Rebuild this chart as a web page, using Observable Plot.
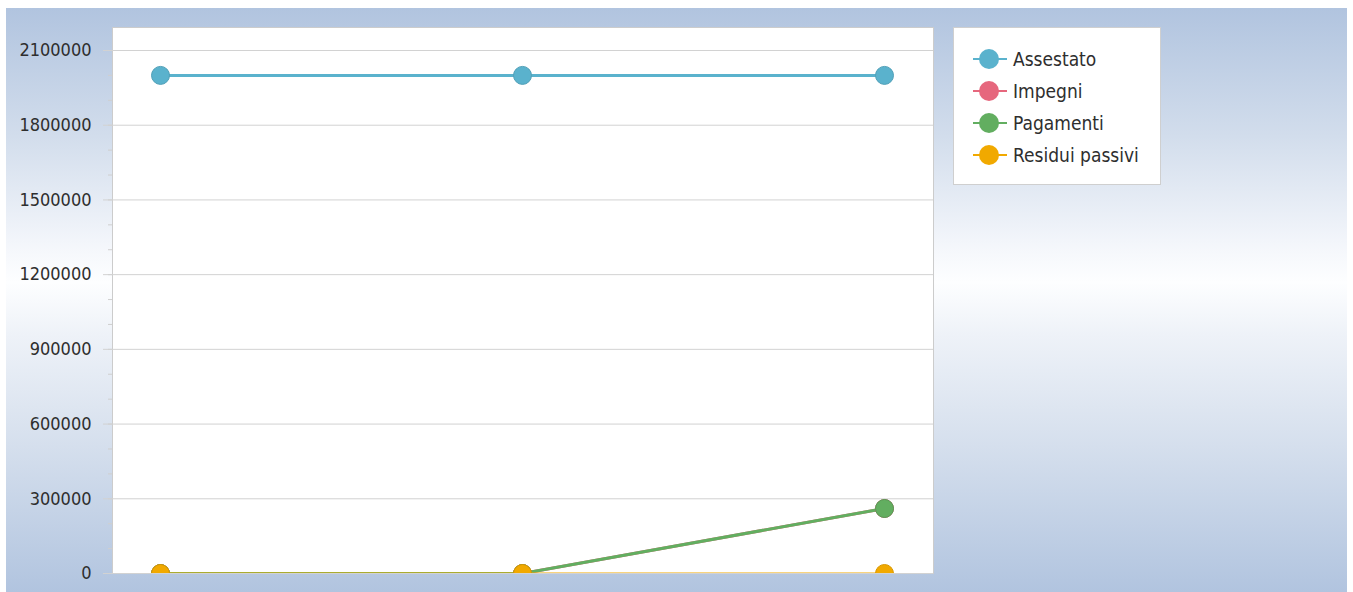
<!DOCTYPE html>
<html>
<head>
<meta charset="utf-8">
<script src="https://cdn.jsdelivr.net/npm/d3@7"></script>
<script src="https://cdn.jsdelivr.net/npm/@observablehq/plot@0.6"></script>
<style>
  html, body { margin: 0; padding: 0; background: #ffffff; }
  #wrap { position: relative; width: 1353px; height: 592px; overflow: hidden; background: #ffffff; }
  #panel { position: absolute; left: 6px; top: 8px; width: 1341px; height: 584px;
           background: linear-gradient(to bottom, #b1c4df 0%, #d2ddec 22%, #f6f8fc 42%, #fdfeff 47%, #eef2f8 56%, #d5dfed 75%, #b1c4df 100%); }
  #chart { position: absolute; left: 0; top: 0; }
  #legend { position: absolute; left: 953px; top: 27px; width: 206px; height: 156px;
            background: #ffffff; border: 1px solid #cfcfcf;
            font-family: "DejaVu Sans Condensed", "DejaVu Sans", sans-serif; font-stretch: condensed;
            font-size: 19px; color: #2e2e2e; }
  .item { position: absolute; left: 18px; height: 24px; display: flex; align-items: center; }
  .item svg { margin-right: 5px; }
</style>
</head>
<body>
<div id="wrap">
  <div id="panel"></div>
  <div id="chart"></div>
  <div id="legend"></div>
</div>
<script>
// ---- data ----
const categories = ["Periodo 1", "Periodo 2", "Periodo 3"];
const seriesNames = ["Assestato", "Impegni", "Pagamenti", "Residui passivi"];
const seriesColors = ["#5ab2cd", "#e6677d", "#62ae60", "#f1a900"];
const assestato = [2000000, 2000000, 2000000];
const impegni = [0, 0, 261000];
const pagamenti = [0, 0, 261000];
const residui = [0, 0, 0];
const majorTicks = [0, 300000, 600000, 900000, 1200000, 1500000, 1800000, 2100000];
const minorTicks = d3.range(0, 2100001, 100000);

const seriesValues = [assestato, impegni, pagamenti, residui];
const rows = [];
seriesNames.forEach((s, i) => {
  categories.forEach((c, j) => rows.push({serie: s, cat: c, value: seriesValues[i][j]}));
});

const yMax = 2100000 * (573 - 27) / (573 - 50);

const chart = Plot.plot({
  width: 1353,
  height: 592,
  marginLeft: 112,
  marginRight: 420,
  marginTop: 27,
  marginBottom: 19,
  style: {background: "transparent", fontFamily: "'DejaVu Sans Condensed', 'DejaVu Sans', sans-serif", fontSize: "18px", fontStretch: "condensed", color: "#2e2e2e"},
  x: {type: "point", domain: categories, padding: 0, range: [160, 884], axis: null},
  y: {domain: [0, yMax], axis: null},
  marks: [
    Plot.frame({fill: "#ffffff", stroke: "#cccccc"}),
    Plot.gridY(majorTicks, {stroke: "#d2d2d2", strokeOpacity: 1}),
    Plot.axisY(minorTicks, {tickSize: 4, text: null, label: null, stroke: "#cfcfcf", strokeOpacity: 1}),
    Plot.axisY(majorTicks, {tickSize: 9, tickPadding: 12, label: null, stroke: "#d2d2d2", strokeOpacity: 1, fill: "#2e2e2e", tickFormat: d => String(d)}),
    ...seriesNames.map((s, i) => Plot.line(rows.filter(r => r.serie === s), {x: "cat", y: "value", stroke: seriesColors[i], strokeWidth: i === 3 ? 2 : 3, clip: true})),
    ...seriesNames.map((s, i) => Plot.dot(rows.filter(r => r.serie === s), {x: "cat", y: "value", r: 9, fill: seriesColors[i], stroke: d3.color(seriesColors[i]).darker(0.3).formatHex(), strokeWidth: 1, clip: true}))
  ]
});
document.getElementById("chart").appendChild(chart);

// ---- legend ----
const legend = document.getElementById("legend");
seriesNames.forEach((s, i) => {
  const item = document.createElement("div");
  item.className = "item";
  item.style.top = (19 + i * 32) + "px";
  item.innerHTML = `<svg width="36" height="24"><line x1="1" x2="35" y1="12" y2="12" stroke="${seriesColors[i]}" stroke-width="2"/><circle cx="17" cy="12" r="10" fill="${seriesColors[i]}"/></svg><span>${s}</span>`;
  legend.appendChild(item);
});
</script>
</body>
</html>
